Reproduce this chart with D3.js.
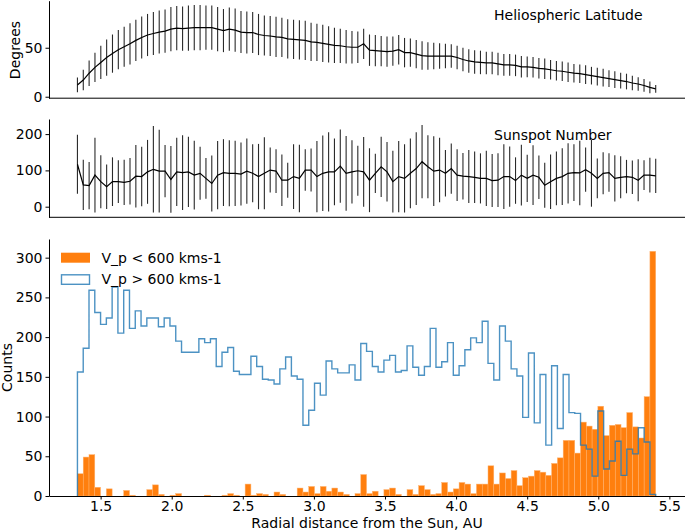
<!DOCTYPE html>
<html>
<head>
<meta charset="utf-8">
<script src="https://cdn.jsdelivr.net/npm/d3@7/dist/d3.min.js"></script>
<style>
  body { margin: 0; background: #fff; }
  svg text { font-family: "DejaVu Sans", sans-serif; font-size: 14px; fill: #000; }
</style>
</head>
<body>
<svg width="685" height="530"></svg>
<script>
// histogram bins (AU)
const binStart = 1.337;
const binWidth = 0.04067;

// heliospheric latitude, degrees (mean and spread)
const latMean = [
  12, 17, 24, 30, 35, 40, 44, 48, 51, 54,
  57.5, 60.5, 63, 64.5, 66, 67, 69, 70, 69.5, 70,
  70.5, 70.5, 70.5, 70.5, 69, 67.5, 69, 68, 66, 65.5,
  65.5, 63.5, 62.5, 62, 61, 60.5, 59, 58.5, 58, 57.5,
  56, 55.5, 54.5, 53.5, 52.5, 52, 51, 50.5, 50.5, 54,
  47.5, 47, 46.5, 46, 46.5, 48, 45, 45, 43.5, 42,
  41.5, 41.5, 41.5, 41.5, 41.5, 40, 38, 36.5, 35.5, 35,
  34.5, 34.5, 33.5, 32.5, 32.5, 32, 30.5, 30.5, 30, 29,
  28.5, 27.5, 26.5, 26, 25, 24, 23.5, 22.5, 21.5, 20.5,
  19.5, 18.5, 17.5, 16.5, 15.5, 14, 13, 11.5, 9.5, 8
];
const latErr = [
  7.5, 10.5, 13, 15, 17, 18.5, 19.5, 20, 20.5, 21,
  21, 21.5, 21.5, 22, 22, 22, 22.5, 22.5, 22.5, 23,
  23, 23, 22.5, 22.5, 22.5, 22, 22, 22, 21.5, 21.5,
  21, 21, 20.5, 20.5, 20.5, 20, 20, 20, 20, 20,
  19.5, 19, 19, 18.5, 18, 17.5, 17, 16.5, 16, 15.5,
  16, 16, 15.5, 15.5, 15, 15, 15, 14.5, 14.5, 14.5,
  14, 13.5, 13, 12.5, 12, 12, 12, 12, 12, 12,
  11.5, 11.5, 11.5, 11, 11, 11, 11, 10.5, 10.5, 10.5,
  10.5, 10, 10, 10, 10, 9.5, 9.5, 9.5, 9, 9,
  9, 8.5, 8.5, 8, 8, 7.5, 7, 6.5, 6, 4
];

// sunspot number (mean and spread)
const sunMean = [
  117, 60, 58, 87, 69, 55, 69, 69, 67, 70,
  84, 83, 96, 103, 98, 98, 75, 96, 94, 96,
  87, 92, 78, 64, 87, 94, 92, 92, 90, 98,
  92, 83, 92, 101, 98, 73, 73, 83, 78, 101,
  101, 83, 92, 96, 96, 112, 92, 96, 99, 96,
  73, 92, 110, 96, 69, 83, 78, 92, 105, 124,
  110, 98, 101, 92, 105, 87, 84, 83, 81, 78,
  78, 72, 73, 83, 83, 72, 87, 78, 87, 81,
  59, 69, 78, 83, 92, 94, 93, 102, 92, 78,
  92, 94, 78, 81, 83, 81, 73, 87, 87, 85
];
const sunErr = [
  81, 69, 65, 103, 73, 61, 67, 59, 62, 64,
  86, 82, 88, 119, 114, 72, 92, 94, 103, 97,
  95, 73, 56, 77, 94, 92, 91, 90, 87, 90,
  80, 90, 99, 62, 60, 71, 48, 89, 93, 57,
  59, 98, 104, 109, 92, 101, 103, 87, 69, 96,
  88, 54, 83, 82, 85, 98, 94, 96, 100, 101,
  87, 96, 89, 64, 69, 71, 64, 73, 71, 69,
  76, 73, 74, 89, 83, 64, 84, 65, 82, 60,
  62, 75, 74, 78, 83, 78, 89, 61, 92, 55,
  58, 53, 64, 58, 46, 46, 58, 41, 48, 47
];

// counts per bin
const slowCounts = [
  28, 49, 52, 11, 0, 9, 0, 0, 7, 1,
  0, 0, 8, 14, 2, 0, 1, 3, 0, 0,
  0, 0, 1, 0, 0, 1, 3, 1, 0, 15,
  1, 3, 2, 0, 5, 2, 0, 0, 10, 5,
  12, 3, 12, 6, 10, 5, 2, 0, 3, 27,
  3, 6, 0, 8, 10, 2, 0, 8, 2, 13,
  8, 2, 3, 17, 5, 9, 17, 15, 3, 15,
  15, 38, 15, 29, 22, 32, 13, 23, 25, 32,
  30, 26, 41, 48, 70, 70, 54, 93, 88, 84,
  113, 76, 89, 90, 86, 105, 87, 73, 125, 308
];
const fastCounts = [
  156, 186, 259, 231, 216, 224, 263, 205, 259, 211,
  233, 214, 224, 224, 213, 224, 214, 195, 181, 181,
  181, 198, 193, 198, 163, 181, 187, 157, 153, 153,
  176, 163, 147, 146, 141, 160, 175, 151, 147, 89,
  108, 142, 127, 170, 160, 155, 155, 165, 146, 192,
  182, 163, 156, 171, 177, 156, 158, 189, 162, 152,
  163, 211, 162, 169, 193, 152, 164, 184, 199, 193,
  220, 167, 146, 214, 195, 160, 151, 99, 180, 92,
  153, 64, 164, 85, 153, 105, 104, 64, 59, 25,
  107, 34, 44, 69, 26, 59, 53, 86, 68, 2
];

const latTicks = [0, 50];
const sunTicks = [0, 100, 200];
const countTicks = [0, 50, 100, 150, 200, 250, 300];
const auTicks = [1.5, 2.0, 2.5, 3.0, 3.5, 4.0, 4.5, 5.0, 5.5];

const svg = d3.select('svg');
const left = 49, right = 685;

const x = d3.scaleLinear().domain([1.137, 5.61]).range([left, right]);

const nBins = slowCounts.length;
const edges = d3.range(nBins + 1).map(i => binStart + i * binWidth);
const pts = d3.range(latMean.length).map(i => binStart + i * (binWidth * nBins) / (latMean.length - 1));

function leftAxis(g, y, ticks) {
  g.call(d3.axisLeft(y).tickValues(ticks).tickSize(3.5).tickPadding(3).tickSizeOuter(0).tickFormat(d3.format('d')));
  g.selectAll('.tick text').style('font-size', '14px');
  g.select('.domain').attr('stroke', '#000').attr('stroke-width', 1);
  g.selectAll('.tick line').attr('stroke', '#000');
}

function errPanel(mean, err, y, ticks, title, titleY) {
  const g = svg.append('g');

  g.selectAll('.ebar')
    .data(mean)
    .enter()
    .append('line')
    .attr('class', 'ebar')
    .attr('x1', (d, i) => x(pts[i]))
    .attr('x2', (d, i) => x(pts[i]))
    .attr('y1', (d, i) => y(d - err[i]))
    .attr('y2', (d, i) => y(d + err[i]))
    .attr('stroke', '#2a2a2a')
    .attr('stroke-width', 1.1);

  g.append('path')
    .datum(mean)
    .attr('fill', 'none')
    .attr('stroke', '#000')
    .attr('stroke-width', 1.2)
    .attr('d', d3.line().x((d, i) => x(pts[i])).y(d => y(d)));

  g.append('line')
    .attr('x1', left).attr('x2', right)
    .attr('y1', y.range()[0]).attr('y2', y.range()[0])
    .attr('stroke', '#000').attr('stroke-width', 1);

  leftAxis(g.append('g').attr('transform', 'translate(' + left + ',0)'), y, ticks);

  g.append('text').attr('x', 494).attr('y', titleY).text(title);
  return g;
}

// top: latitude
const yLat = d3.scaleLinear().domain([-1.5, 98]).range([98.2, 0.7]);
errPanel(latMean, latErr, yLat, latTicks, 'Heliospheric Latitude', 20);
svg.append('text')
  .attr('transform', 'translate(19.5,50) rotate(-90)')
  .attr('text-anchor', 'middle')
  .text('Degrees');

// middle: sunspots
const ySun = d3.scaleLinear().domain([-29.2, 241.6]).range([217.3, 119]);
errPanel(sunMean, sunErr, ySun, sunTicks, 'Sunspot Number', 140);

// bottom: histograms
const yCnt = d3.scaleLinear().domain([0, 323.5]).range([496, 239]);
const hg = svg.append('g');

hg.selectAll('.bar')
  .data(slowCounts)
  .enter()
  .append('rect')
  .attr('class', 'bar')
  .attr('x', (d, i) => x(edges[i]))
  .attr('y', d => yCnt(d))
  .attr('width', (d, i) => x(edges[i + 1]) - x(edges[i]))
  .attr('height', d => yCnt(0) - yCnt(d))
  .attr('fill', '#ff7f0e')
  .attr('stroke', '#ffb26e')
  .attr('stroke-width', 0.5);

const stepPts = [[edges[0], 0]]
  .concat(fastCounts.map((d, i) => [edges[i], d]))
  .concat([[edges[nBins], fastCounts[nBins - 1]], [edges[nBins], 0]]);

hg.append('path')
  .datum(stepPts)
  .attr('fill', 'none')
  .attr('stroke', '#1f77b4')
  .attr('stroke-opacity', 0.8)
  .attr('stroke-width', 1.4)
  .attr('d', d3.line().curve(d3.curveStepAfter).x(d => x(d[0])).y(d => yCnt(d[1])));

const xAxis = hg.append('g')
  .attr('transform', 'translate(0,' + yCnt(0) + ')')
  .call(d3.axisBottom(x).tickValues(auTicks).tickSize(3.5).tickPadding(2).tickSizeOuter(0).tickFormat(d3.format('.1f')));
xAxis.selectAll('.tick text').style('font-size', '14px');
xAxis.select('.domain').attr('stroke', '#000');

leftAxis(hg.append('g').attr('transform', 'translate(' + left + ',0)'), yCnt, countTicks);

svg.append('text')
  .attr('x', (left + right) / 2)
  .attr('y', 528)
  .attr('text-anchor', 'middle')
  .text('Radial distance from the Sun, AU');

svg.append('text')
  .attr('transform', 'translate(11.5,367.5) rotate(-90)')
  .attr('text-anchor', 'middle')
  .text('Counts');

// legend
const legend = svg.append('g');
legend.append('rect')
  .attr('x', 61).attr('y', 252.7).attr('width', 29).attr('height', 10)
  .attr('fill', '#ff7f0e');
legend.append('rect')
  .attr('x', 61.5).attr('y', 274.8).attr('width', 28).attr('height', 9.5)
  .attr('fill', 'none').attr('stroke', '#1f77b4').attr('stroke-opacity', 0.8).attr('stroke-width', 1.4);
legend.append('text').attr('x', 101.5).attr('y', 262.7).text('V_p < 600 kms-1');
legend.append('text').attr('x', 101.5).attr('y', 284.3).text('V_p > 600 kms-1');
</script>
</body>
</html>
